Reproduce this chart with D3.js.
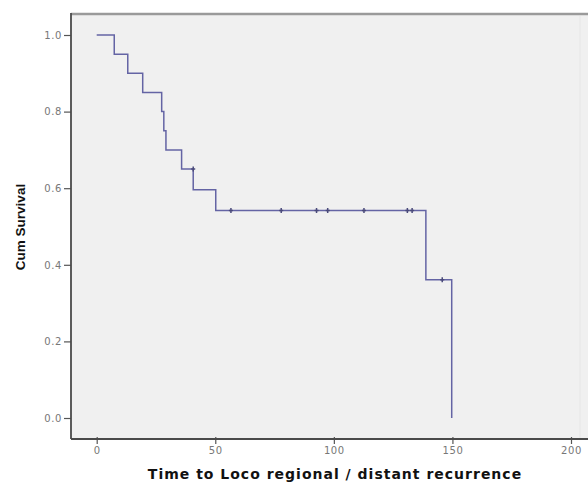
<!DOCTYPE html>
<html>
<head>
<meta charset="utf-8">
<script src="https://cdn.jsdelivr.net/npm/d3@7"></script>
<style>
  body { margin: 0; background: #fff; }
  svg { display: block; }
  .tick text { font-family: "DejaVu Sans", Verdana, sans-serif; font-size: 10px; fill: #777; letter-spacing: 0.6px; }
  .tick line { stroke: #555; stroke-width: 1.2; }
</style>
</head>
<body>
<div id="chart"></div>
<script>
// Kaplan-Meier steps
const stepTimes    = [0, 7.4, 13.1, 19.4, 27.4, 28.3, 29.2, 35.8, 40.7, 50.2, 138.8, 149.7];
const stepSurvival = [1.0, 0.95, 0.90, 0.85, 0.80, 0.75, 0.70, 0.65, 0.596, 0.542, 0.361, 0.0];
// censored cases (+ marks)
const censorTimes    = [40.7, 56.6, 77.8, 92.7, 97.4, 112.7, 131.0, 133.0, 145.7];
const censorSurvival = [0.65, 0.542, 0.542, 0.542, 0.542, 0.542, 0.542, 0.542, 0.361];
// axes
const xTicks = [0, 50, 100, 150, 200];
const yTicks = [0, 0.2, 0.4, 0.6, 0.8, 1.0];

const width = 588, height = 482;
const frame = { left: 71, top: 14, bottom: 439, right: 588 };

const x = d3.scaleLinear().domain([0, 200]).range([96.7, 571]);
const y = d3.scaleLinear().domain([0, 1]).range([418, 35]);

const svg = d3.select("#chart").append("svg")
    .attr("width", width)
    .attr("height", height);

// plot background
svg.append("rect")
    .attr("x", frame.left)
    .attr("y", frame.top)
    .attr("width", frame.right - frame.left)
    .attr("height", frame.bottom - frame.top)
    .attr("fill", "#f0f0f0");

// faint inner edge on the right
svg.append("line")
    .attr("x1", 580).attr("x2", 580)
    .attr("y1", frame.top + 2).attr("y2", frame.bottom)
    .attr("stroke", "#e6e6e6");

// top border
svg.append("line")
    .attr("x1", frame.left).attr("x2", frame.right)
    .attr("y1", frame.top).attr("y2", frame.top)
    .attr("stroke", "#9a9a9a")
    .attr("stroke-width", 2.5);

// + AXES
const yAxis = d3.axisLeft(y).tickValues(yTicks).tickSize(7).tickPadding(2).tickFormat(d3.format(".1f"));
const xAxis = d3.axisBottom(x).tickValues(xTicks).tickSize(5).tickPadding(3).tickFormat(d3.format("d"));

svg.append("g")
    .attr("class", "y-axis")
    .attr("transform", `translate(${frame.left},0)`)
    .call(yAxis)
    .call(g => g.select(".domain").remove());

svg.append("g")
    .attr("class", "x-axis")
    .attr("transform", `translate(0,${frame.bottom})`)
    .call(xAxis)
    .call(g => g.select(".domain").remove())
    .call(g => g.selectAll(".tick line").attr("y1", -2));

// axis lines
svg.append("line")
    .attr("x1", frame.left).attr("x2", frame.left)
    .attr("y1", frame.top - 1).attr("y2", frame.bottom)
    .attr("stroke", "#4a4a4a")
    .attr("stroke-width", 1.8);
svg.append("line")
    .attr("x1", frame.left).attr("x2", frame.right)
    .attr("y1", frame.bottom).attr("y2", frame.bottom)
    .attr("stroke", "#4a4a4a")
    .attr("stroke-width", 1.8);

// survival curve
const km = stepTimes.map((t, i) => ({ t: t, s: stepSurvival[i] }));
const lineFunc = d3.line()
    .x(d => x(d.t))
    .y(d => y(d.s))
    .curve(d3.curveStepAfter);

svg.append("path")
    .datum(km)
    .attr("d", lineFunc)
    .attr("fill", "none")
    .attr("stroke", "#6464a4")
    .attr("stroke-width", 1.5);

// censor marks
const cens = censorTimes.map((t, i) => ({ t: t, s: censorSurvival[i] }));
svg.selectAll("path.censor")
    .data(cens)
    .join("path")
    .attr("class", "censor")
    .attr("d", d => `M${x(d.t)},${y(d.s) - 2.5}V${y(d.s) + 2.5}M${x(d.t) - 2},${y(d.s)}H${x(d.t) + 2}`)
    .attr("stroke", "#4a4a7a")
    .attr("stroke-width", 1.5);

// axis titles
svg.append("text")
    .attr("transform", "translate(25,227) rotate(-90)")
    .attr("text-anchor", "middle")
    .style("font-family", "'Liberation Sans Narrow', 'Arial Narrow', sans-serif")
    .style("font-weight", "bold")
    .style("font-size", "13.5px")
    .attr("fill", "#111")
    .text("Cum Survival");

svg.append("text")
    .attr("x", 335)
    .attr("y", 479)
    .attr("text-anchor", "middle")
    .style("font-family", "'DejaVu Sans', Verdana, sans-serif")
    .style("font-weight", "bold")
    .style("font-size", "14px")
    .style("letter-spacing", "1px")
    .attr("fill", "#111")
    .text("Time to Loco regional / distant recurrence");
</script>
</body>
</html>
